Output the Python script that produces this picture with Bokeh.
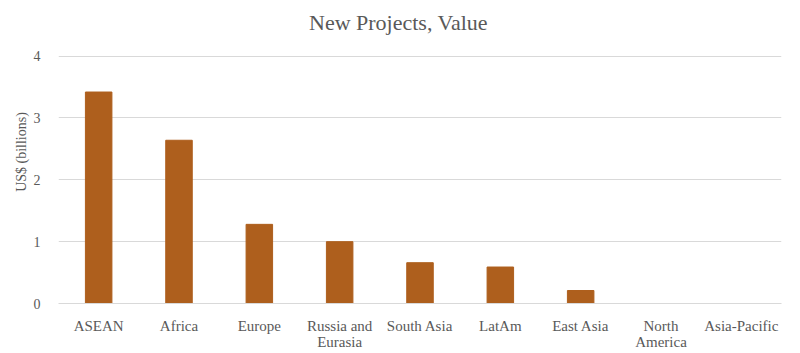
from bokeh.plotting import figure
from bokeh.models import FactorRange, Range1d, FixedTicker, Label
from bokeh.embed import file_html
from bokeh.resources import INLINE

categories = ["ASEAN", "Africa", "Europe", "Russia and Eurasia", "South Asia",
              "LatAm", "East Asia", "North America", "Asia-Pacific"]
values = [3.42, 2.64, 1.28, 1.0, 0.66, 0.59, 0.21, 0.0, 0.0]
y_ticks = [0, 1, 2, 3, 4]
label_breaks = {"Russia and Eurasia": "Russia and\nEurasia",
                "North America": "North\nAmerica"}
title_text = "New Projects, Value"

factors = [label_breaks.get(c, c) for c in categories]

FONT = "Liberation Serif"
GRAY = "#595959"

# extra headroom above 4 holds the title inside the frame
p = figure(width=800, height=353, output_backend="svg", toolbar_location=None,
           x_range=FactorRange(factors=factors, range_padding=0),
           y_range=Range1d(0, 4.9),
           min_border_left=58, min_border_right=19, min_border_top=0,
           min_border_bottom=50)

p.vbar(x=factors, top=values, width=0.33, color="#AE5F1D")

title = Label(x=340, y=281, x_units="screen", y_units="screen", text=title_text,
              text_align="center", text_baseline="middle",
              text_font=FONT, text_font_size="22px", text_color=GRAY)
p.add_layout(title)

p.outline_line_color = None
p.xgrid.grid_line_color = None
p.ygrid.grid_line_color = "#d9d9d9"
p.ygrid.grid_line_width = 1

p.yaxis.ticker = FixedTicker(ticks=y_ticks)
p.yaxis.axis_line_color = None
p.yaxis.major_tick_line_color = None
p.yaxis.minor_tick_line_color = None
p.yaxis.major_label_text_font = FONT
p.yaxis.major_label_text_font_size = "14px"
p.yaxis.major_label_text_color = GRAY
p.yaxis.major_label_standoff = 12
p.yaxis.axis_label = "US$ (billions)"
p.yaxis.axis_label_text_font = FONT
p.yaxis.axis_label_text_font_size = "14px"
p.yaxis.axis_label_text_font_style = "normal"
p.yaxis.axis_label_text_color = GRAY
p.yaxis.axis_label_standoff = 2

p.xaxis.axis_line_color = "#d9d9d9"
p.xaxis.major_tick_line_color = None
p.xaxis.minor_tick_line_color = None
p.xaxis.major_label_text_font = FONT
p.xaxis.major_label_text_font_size = "15px"
p.xaxis.major_label_text_line_height = 1.05
p.xaxis.major_label_text_color = GRAY
p.xaxis.major_label_standoff = 8

open("out.html", "w").write(file_html(p, INLINE))
